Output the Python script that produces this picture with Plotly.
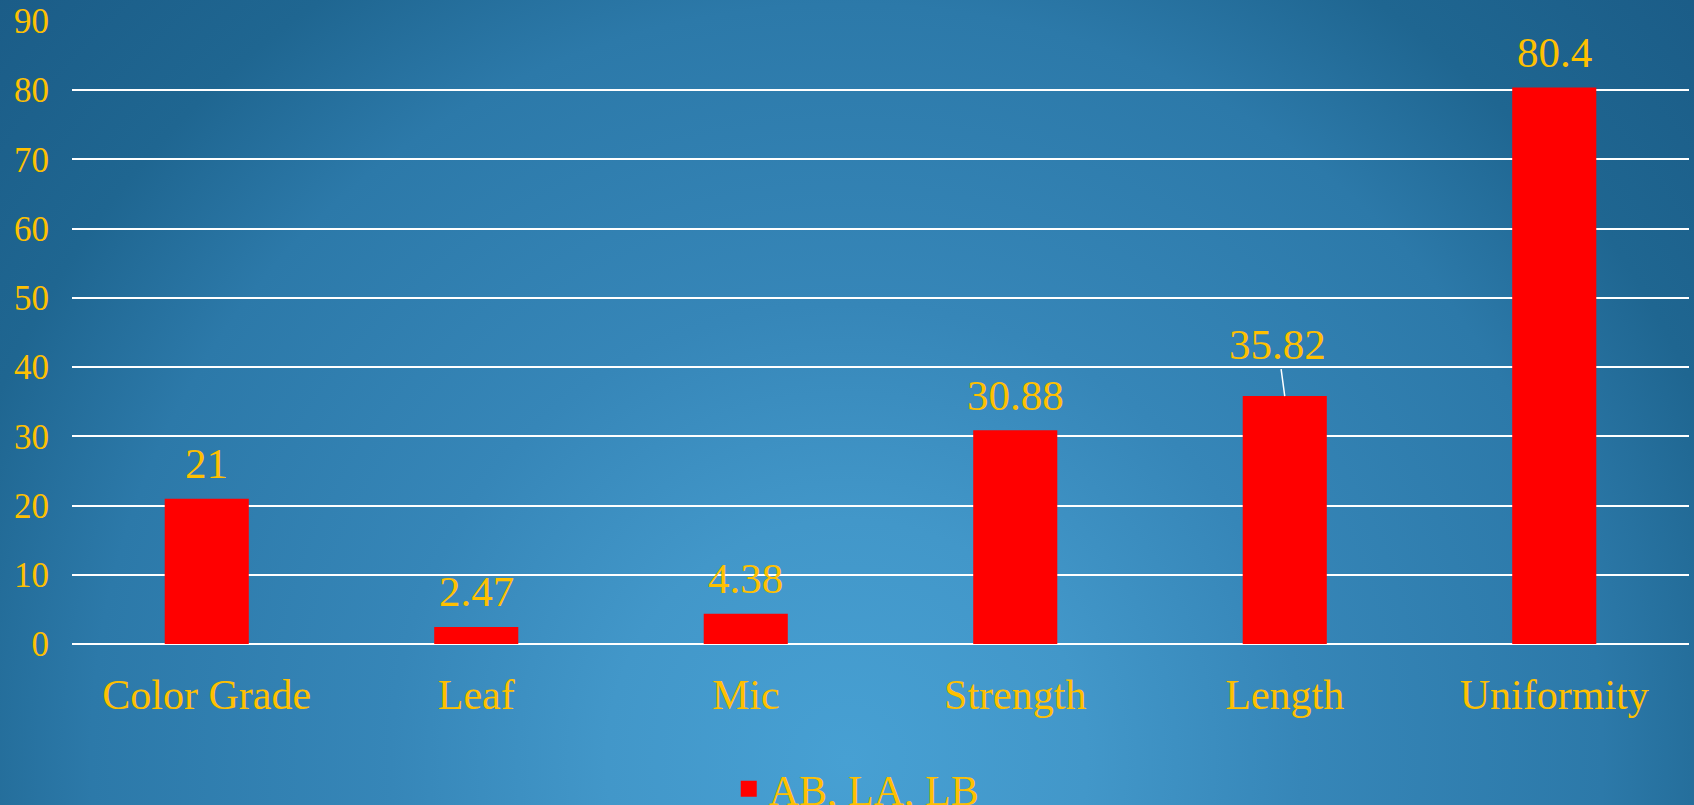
import base64
import plotly.graph_objects as go

categories = ["Color Grade", "Leaf", "Mic", "Strength", "Length", "Uniformity"]
values = [21, 2.47, 4.38, 30.88, 35.82, 80.4]
value_labels = ["21", "2.47", "4.38", "30.88", "35.82", "80.4"]
series_name = "AB, LA, LB"
y_ticks = [0, 10, 20, 30, 40, 50, 60, 70, 80, 90]

W, H = 1694, 805
ML, MR, MT, MB = 72, 5, 21, 161
PW, PH = W - ML - MR, H - MT - MB

GOLD = "#FFC000"
FONT = "Liberation Serif"

svg = f'''<svg xmlns="http://www.w3.org/2000/svg" width="{W}" height="{H}" viewBox="0 0 {W} {H}" preserveAspectRatio="none">
<defs><radialGradient id="g" gradientUnits="userSpaceOnUse" cx="847" cy="760" r="1200">
<stop offset="0" stop-color="#47a0d3"/>
<stop offset="0.2" stop-color="#4297c9"/>
<stop offset="0.38" stop-color="#3686b8"/>
<stop offset="0.63" stop-color="#2c79a9"/>
<stop offset="0.77" stop-color="#1f6691"/>
<stop offset="1" stop-color="#1a5a85"/>
</radialGradient></defs>
<rect width="{W}" height="{H}" fill="url(#g)"/></svg>'''
bg_src = "data:image/svg+xml;base64," + base64.b64encode(svg.encode()).decode()

fig = go.Figure()
fig.add_trace(go.Bar(
    x=categories, y=values, marker=dict(color="#FF0000", line=dict(width=0)),
    showlegend=False, name=series_name, hoverinfo="x+y",
))
fig.add_trace(go.Scatter(
    x=[None], y=[None], mode="markers", name=series_name,
    marker=dict(symbol="square", size=22, color="#FF0000"),
    showlegend=True,
))

for cat, v, lab in zip(categories, values, value_labels):
    if cat == "Length":
        fig.add_annotation(x=cat, y=v, text=lab, showarrow=True, arrowhead=0,
                           arrowwidth=1.5, arrowcolor="white", ax=-7, ay=-52,
                           standoff=0,
                           font=dict(family=FONT, size=43, color=GOLD))
    else:
        fig.add_annotation(x=cat, y=v, text=lab, showarrow=False,
                           yanchor="middle", yshift=35,
                           font=dict(family=FONT, size=43, color=GOLD))

fig.update_layout(
    width=W, height=H,
    margin=dict(l=ML, r=MR, t=MT, b=MB, pad=0, autoexpand=False),
    paper_bgcolor="#2a78a8",
    plot_bgcolor="rgba(0,0,0,0)",
    bargap=0.688,
    font=dict(family=FONT, color=GOLD),
    images=[dict(source=bg_src, xref="paper", yref="paper",
                 x=-ML / PW, y=1 + MT / PH, sizex=W / PW, sizey=H / PH,
                 xanchor="left", yanchor="top", sizing="stretch", layer="below")],
    legend=dict(orientation="h", x=0.485, xanchor="center", y=-(789 - (H - MB)) / PH,
                yanchor="middle", font=dict(family=FONT, size=42, color=GOLD),
                bgcolor="rgba(0,0,0,0)", itemsizing="trace"),
    xaxis=dict(showgrid=False, showline=False, zeroline=False, automargin=False,
               tickfont=dict(family=FONT, size=42, color=GOLD),
               ticks="", ticklabelstandoff=22),
    yaxis=dict(range=[0, 90], tickvals=y_ticks, showgrid=True, gridcolor="white",
               gridwidth=1.5, zeroline=True, zerolinecolor="white", zerolinewidth=1.5,
               showline=False, ticks="", ticklabelstandoff=22, automargin=False,
               tickfont=dict(family=FONT, size=35, color=GOLD)),
)

fig.write_html("out.html", config={"displayModeBar": False},
               post_script="document.body.style.margin='0';document.body.style.overflow='hidden';")
